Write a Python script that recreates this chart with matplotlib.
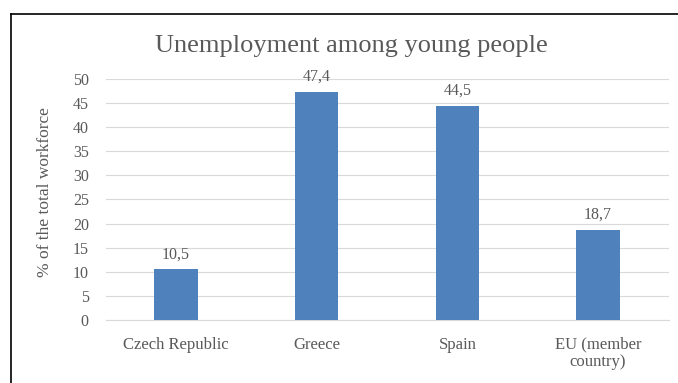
import matplotlib
matplotlib.use("Agg")
import matplotlib.pyplot as plt
from matplotlib.lines import Line2D

categories = ["Czech Republic", "Greece", "Spain", "EU (member\ncountry)"]
values = [10.5, 47.4, 44.5, 18.7]
value_labels = ["10,5", "47,4", "44,5", "18,7"]
yticks = [0, 5, 10, 15, 20, 25, 30, 35, 40, 45, 50]

plt.rcParams['font.family'] = ['Liberation Serif', 'DejaVu Serif']
grey = "#595959"

fig = plt.figure(figsize=(6.78, 3.83), dpi=100)
W, H = 678, 383
ax = fig.add_axes([105.5 / W, 1 - 320 / H, (668.5 - 105.5) / W, (320 - 79) / H])

x = list(range(len(categories)))
ax.bar(x, values, width=0.31, color="#4f81bd", zorder=3)
ax.set_xlim(-0.5, len(categories) - 0.5)
ax.set_ylim(0, 50)
ax.set_yticks(yticks)
ax.set_yticklabels([str(t) for t in yticks], fontsize=11.5, color=grey)
ax.set_xticks(x)
ax.set_xticklabels(categories, fontsize=12, color=grey, linespacing=1.15)
ax.tick_params(axis='both', length=0)
ax.tick_params(axis='y', pad=12)
ax.tick_params(axis='x', pad=12)
ax.grid(axis='y', color="#d9d9d9", linewidth=0.8, zorder=0)
for s in ["top", "right", "left"]:
    ax.spines[s].set_visible(False)
ax.spines["bottom"].set_color("#d9d9d9")
ax.spines["bottom"].set_linewidth(0.8)

for xi, v, lab in zip(x, values, value_labels):
    ax.annotate(lab, (xi, v), xytext=(0, 5), textcoords="offset points",
                ha="center", va="bottom", fontsize=11.5, color=grey)

ax.set_ylabel("% of the total workforce", fontsize=12.5, color=grey)
ax.yaxis.set_label_coords((53 - 105.5) / 563, (320 - 192) / 241)

fig.text(351 / W, 1 - 52 / H, "Unemployment among young people", ha="center",
         va="baseline", fontsize=19, color=grey)

# frame lines (top and left)
fig.add_artist(Line2D([11 / W, 1], [1 - 14 / H, 1 - 14 / H], color="black", linewidth=1.2))
fig.add_artist(Line2D([11 / W, 11 / W], [0, 1 - 14 / H], color="black", linewidth=1.2))

fig.savefig("out.png", dpi=100)
